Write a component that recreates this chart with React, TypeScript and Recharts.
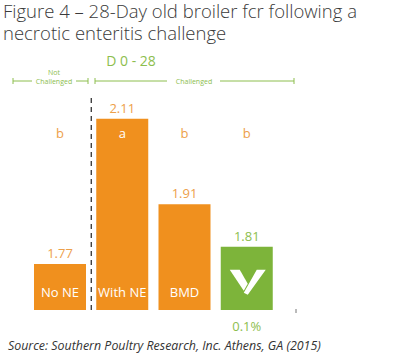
import React from 'react';
import { BarChart, Bar, XAxis, YAxis, ReferenceLine, LabelList, Cell } from 'recharts';

// ── data ──
const categories = ['No NE', 'With NE', 'BMD', ''];
const fcr = [1.77, 2.11, 1.91, 1.81];
const letters = ['b', 'a', 'b', 'b'];
const doseLabels = ['', '', '', '0.1%'];

const ORANGE = '#F0901E';
const GREEN = '#7DB43A';
const ORANGE_TXT = '#EDA04A';
const GREEN_TXT = '#8DBE4E';
const FONT = '"Open Sans", sans-serif';

const data = categories.map((name, i) => ({
  name,
  fcr: fcr[i],
  letter: letters[i],
  dose: doseLabels[i],
}));

const LETTER_Y = 133;

function ValueLabel(props: any) {
  const { x, y, width, value, index } = props;
  return (
    <text x={x + width / 2} y={y - 6} textAnchor="middle" fontSize={13} fontFamily={FONT}
      fill={index === 3 ? GREEN_TXT : ORANGE_TXT}>
      {Number(value).toFixed(2)}
    </text>
  );
}

function LetterLabel(props: any) {
  const { x, y, width, value } = props;
  const inside = y < LETTER_Y - 8;
  return (
    <text x={x + width / 2} y={LETTER_Y + 5} textAnchor="middle" fontSize={13} fontFamily={FONT}
      fill={inside ? '#FFFFFF' : ORANGE_TXT}>
      {value}
    </text>
  );
}

function NameLabel(props: any) {
  const { x, y, width, height, value, index } = props;
  const cx = x + width / 2;
  if (index === 3) {
    // white V mark inside the green bar
    const p = (pts: number[][]) => pts.map(([a, b]) => `${x + a},${y + b}`).join(' ');
    return (
      <g fill="#FFFFFF">
        <polygon points={p([[9, 23], [19, 23], [27, 37], [23, 44]])} />
        <polygon points={p([[36, 23], [45, 23], [27, 48], [23, 46], [27, 39]])} />
      </g>
    );
  }
  return (
    <text x={cx} y={y + height - 13} textAnchor="middle" fontSize={13} fontFamily={FONT} fill="#FFFFFF">
      {value}
    </text>
  );
}

function DoseLabel(props: any) {
  const { x, y, width, height, value } = props;
  if (!value) return null;
  return (
    <text x={x + width / 2} y={y + height + 21} textAnchor="middle" fontSize={13} fontFamily={FONT} fill={GREEN_TXT}>
      {value}
    </text>
  );
}

export default function App() {
  const g = GREEN_TXT;
  return (
    <div style={{ position: 'absolute', left: 0, top: 0, width: 414, height: 358, background: '#fff', fontFamily: FONT }}>
      <div style={{ position: 'absolute', left: 3, top: 0, fontSize: 18.5, fontWeight: 300, lineHeight: '22px', color: '#3a3a3a', whiteSpace: 'nowrap' }}>
        Figure 4 – 28-Day old broiler fcr following a<br />necrotic enteritis challenge
      </div>
      <BarChart width={414} height={358} data={data} margin={{ top: 94, right: 118, bottom: 48, left: 12 }}>
        <XAxis dataKey="name" height={0} tick={false} tickLine={false} axisLine={{ stroke: '#777', strokeWidth: 1.5 }}
          padding={{ left: 17, right: 18 }} />
        <YAxis width={0} tick={false} tickLine={false} domain={[1.662, 2.168]} axisLine={{ stroke: '#555', strokeWidth: 1.5 }} />
        <ReferenceLine x="With NE" position="start" stroke="#222" strokeWidth={1.2} strokeDasharray="5 4" />
        <Bar dataKey="fcr" barSize={52} isAnimationActive={false}>
          {data.map((_, i) => (
            <Cell key={i} fill={i === 3 ? GREEN : ORANGE} />
          ))}
          <LabelList dataKey="fcr" content={ValueLabel} />
          <LabelList dataKey="letter" content={LetterLabel} />
          <LabelList dataKey="name" content={NameLabel} />
          <LabelList dataKey="dose" content={DoseLabel} />
        </Bar>
      </BarChart>
      <svg width={414} height={358} style={{ position: 'absolute', left: 0, top: 0, pointerEvents: 'none' }}>
        <line x1={296} y1={309} x2={296} y2={313} stroke="#777" strokeWidth={1} />
        <text x={131} y={66} textAnchor="middle" fontSize={14} fontFamily={FONT} fill={g}>D 0 - 28</text>
        <g stroke={g} strokeWidth={1}>
          <line x1={13} y1={81} x2={32} y2={81} />
          <line x1={13} y1={78} x2={13} y2={84} />
          <line x1={76} y1={81} x2={88} y2={81} />
          <line x1={88} y1={78} x2={88} y2={84} />
          <line x1={95} y1={78} x2={95} y2={84} />
          <line x1={95} y1={81} x2={167} y2={81} />
          <line x1={220} y1={81} x2={294} y2={81} />
          <line x1={294} y1={78} x2={294} y2={84} />
        </g>
        <text x={54} y={75} textAnchor="middle" fontSize={7} fontFamily={FONT} fill={g}>Not</text>
        <text x={54} y={84} textAnchor="middle" fontSize={7} fontFamily={FONT} fill={g}>Challenged</text>
        <text x={194} y={84} textAnchor="middle" fontSize={7} fontFamily={FONT} fill={g}>Challenged</text>
      </svg>
      <div style={{ position: 'absolute', left: 8, top: 337, fontSize: 12.4, fontStyle: 'italic', color: '#333', whiteSpace: 'nowrap' }}>
        Source: Southern Poultry Research, Inc. Athens, GA (2015)
      </div>
    </div>
  );
}
